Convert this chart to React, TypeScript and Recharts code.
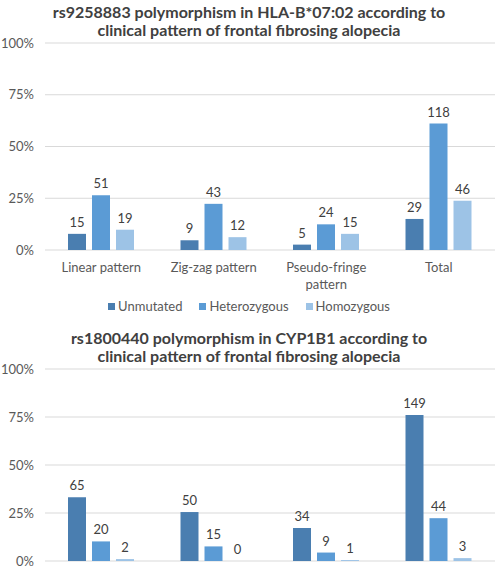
import React from "react";
import {
  BarChart,
  Bar,
  XAxis,
  YAxis,
  CartesianGrid,
  Legend,
  LabelList,
  Text,
} from "recharts";

const categories = [
  "Linear pattern",
  "Zig-zag pattern",
  "Pseudo-fringe pattern",
  "Total",
];
const yTicks = [0, 25, 50, 75, 100];

// rs9258883 / HLA-B*07:02 — bar height = % of patients, label = count
const hlaUnmutatedPct = [7.8, 4.7, 2.6, 15.0];
const hlaHeteroPct = [26.4, 22.3, 12.4, 61.1];
const hlaHomoPct = [9.8, 6.2, 7.8, 23.8];
const hlaUnmutatedN = [15, 9, 5, 29];
const hlaHeteroN = [51, 43, 24, 118];
const hlaHomoN = [19, 12, 15, 46];

// rs1800440 / CYP1B1
const cypUnmutatedPct = [33.2, 25.5, 17.2, 76.0];
const cypHeteroPct = [10.2, 7.6, 4.4, 22.3];
const cypHomoPct = [1.0, 0, 0.5, 1.5];
const cypUnmutatedN = [65, 50, 34, 149];
const cypHeteroN = [20, 15, 9, 44];
const cypHomoN = [2, 0, 1, 3];

const FONT = "Lato, 'Open Sans', sans-serif";
const TEXT = "#595959";
const LABEL = "#404040";
const GRID = "#d9d9d9";

const series = [
  { key: "unmutated", name: "Unmutated", fill: "#4a7eb0" },
  { key: "hetero", name: "Heterozygous", fill: "#5b9bd5" },
  { key: "homo", name: "Homozygous", fill: "#9dc3e6" },
];

function buildRows(
  u: number[],
  he: number[],
  ho: number[],
  uN: number[],
  heN: number[],
  hoN: number[]
) {
  return categories.map((name, i) => ({
    name,
    unmutated: u[i],
    hetero: he[i],
    homo: ho[i],
    unmutatedN: uN[i],
    heteroN: heN[i],
    homoN: hoN[i],
  }));
}

const hlaRows = buildRows(
  hlaUnmutatedPct,
  hlaHeteroPct,
  hlaHomoPct,
  hlaUnmutatedN,
  hlaHeteroN,
  hlaHomoN
);
const cypRows = buildRows(
  cypUnmutatedPct,
  cypHeteroPct,
  cypHomoPct,
  cypUnmutatedN,
  cypHeteroN,
  cypHomoN
);

const CategoryTick = (props: any) => {
  const { x, y, payload } = props;
  return (
    <Text
      x={x}
      y={y}
      width={100}
      textAnchor="middle"
      verticalAnchor="start"
      lineHeight={17}
      fill={TEXT}
      fontSize={13}
      fontFamily={FONT}
    >
      {payload.value}
    </Text>
  );
};

const LegendBox = () => (
  <div
    style={{
      display: "flex",
      justifyContent: "center",
      gap: 17,
      fontFamily: FONT,
      fontSize: 13,
      color: TEXT,
      lineHeight: "18px",
    }}
  >
    {series.map((s) => (
      <span key={s.key} style={{ display: "flex", alignItems: "center" }}>
        <span
          style={{
            width: 7,
            height: 7,
            background: s.fill,
            marginRight: 3,
            display: "inline-block",
          }}
        />
        {s.name}
      </span>
    ))}
  </div>
);

function Title({ lines, top }: { lines: string[]; top: number }) {
  return (
    <div
      style={{
        position: "absolute",
        top,
        left: 0,
        width: 498,
        textAlign: "center",
        fontFamily: FONT,
        fontWeight: 700,
        fontSize: 16,
        lineHeight: "18px",
        color: "#404040",
      }}
    >
      {lines.map((l) => (
        <div key={l}>{l}</div>
      ))}
    </div>
  );
}

// keep a hairline rectangle for zero values so their count label is still drawn
const keepZero = (v: any) => (v === 0 ? 0.01 : 0);

function GroupChart({
  rows,
  height,
  marginTop,
  axisHeight,
  marginBottom,
  withLegend,
  showCategories,
}: {
  rows: any[];
  height: number;
  marginTop: number;
  axisHeight: number;
  marginBottom: number;
  withLegend?: boolean;
  showCategories?: boolean;
}) {
  return (
    <BarChart
      width={498}
      height={height}
      data={rows}
      margin={{ top: marginTop, right: 3, left: 0, bottom: marginBottom }}
      barSize={18}
      barGap={6}
    >
      <CartesianGrid vertical={false} stroke={GRID} />
      <XAxis
        dataKey="name"
        height={axisHeight}
        axisLine={false}
        tickLine={false}
        tickMargin={7}
        tick={showCategories ? <CategoryTick /> : false}
        interval={0}
      />
      <YAxis
        width={45}
        domain={[0, 100]}
        ticks={yTicks}
        interval={0}
        tickFormatter={(v) => `${v}%`}
        axisLine={false}
        tickLine={false}
        tickMargin={5}
        tick={{ fill: TEXT, fontSize: 13, fontFamily: FONT }}
      />
      {series.map((s) => (
        <Bar
          key={s.key}
          dataKey={s.key}
          name={s.name}
          fill={s.fill}
          minPointSize={keepZero as any}
          isAnimationActive={false}
        >
          <LabelList
            dataKey={`${s.key}N`}
            position="top"
            offset={7}
            fill={LABEL}
            fontSize={13}
            fontFamily={FONT}
          />
        </Bar>
      ))}
      {withLegend && (
        <Legend
          verticalAlign="middle"
          align="center"
          content={<LegendBox />}
          wrapperStyle={{ top: height - 33, left: 0, width: 498 }}
        />
      )}
    </BarChart>
  );
}

export default function App() {
  return (
    <div
      style={{
        position: "absolute",
        top: 0,
        left: 0,
        width: 498,
        height: 568,
        overflow: "hidden",
        background: "#fff",
      }}
    >
      <div style={{ position: "absolute", top: 0, left: 0 }}>
        <GroupChart
          rows={hlaRows}
          height={330}
          marginTop={43}
          axisHeight={40}
          marginBottom={40}
          withLegend
          showCategories
        />
      </div>
      <div style={{ position: "absolute", top: 299, left: 0 }}>
        <GroupChart
          rows={cypRows}
          height={275}
          marginTop={70}
          axisHeight={13}
          marginBottom={0}
        />
      </div>
      <Title
        top={3}
        lines={[
          "rs9258883 polymorphism in HLA-B*07:02 according to",
          "clinical pattern of frontal fibrosing alopecia",
        ]}
      />
      <Title
        top={329}
        lines={[
          "rs1800440 polymorphism in CYP1B1 according to",
          "clinical pattern of frontal fibrosing alopecia",
        ]}
      />
    </div>
  );
}
